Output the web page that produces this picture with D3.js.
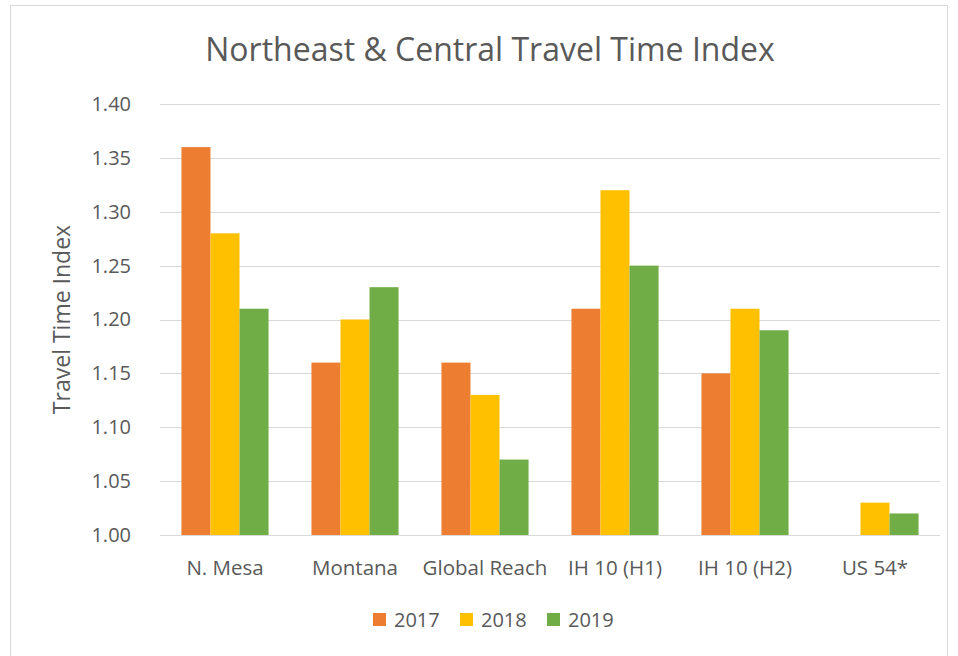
<!DOCTYPE html>
<html>
<head>
<meta charset="utf-8">
<script src="https://cdn.jsdelivr.net/npm/d3@7"></script>
<style>
  body { margin: 0; background: #fff; }
  svg { display: block; font-family: "Open Sans", "Liberation Sans", sans-serif; }
</style>
</head>
<body>
<div id="chart"></div>
<script>
var categories = ["N. Mesa", "Montana", "Global Reach", "IH 10 (H1)", "IH 10 (H2)", "US 54*"];
var years = ["2017", "2018", "2019"];
var values2017 = [1.36, 1.16, 1.16, 1.21, 1.15, null];
var values2018 = [1.28, 1.20, 1.13, 1.32, 1.21, 1.03];
var values2019 = [1.21, 1.23, 1.07, 1.25, 1.19, 1.02];
var yTicks = [1.00, 1.05, 1.10, 1.15, 1.20, 1.25, 1.30, 1.35, 1.40];
var colors = ["#ed7d31", "#ffc000", "#70ad47"];

var W = 958, H = 656;
var margin = {top: 104, right: 18, bottom: 121, left: 160},
    width = W - margin.left - margin.right,
    height = H - margin.top - margin.bottom;

var series = [values2017, values2018, values2019];

var svg = d3.select("#chart").append("svg")
    .attr("width", W)
    .attr("height", H);

// chart frame
svg.append("rect")
    .attr("x", 10.5).attr("y", 5.5)
    .attr("width", 937).attr("height", 670)
    .attr("fill", "none")
    .attr("stroke", "#d9d9d9");

svg.append("text")
    .attr("x", 490)
    .attr("y", 61)
    .attr("text-anchor", "middle")
    .attr("fill", "#595959")
    .style("font-size", "32px")
    .text("Northeast & Central Travel Time Index");

var g = svg.append("g")
    .attr("transform", "translate(" + margin.left + "," + margin.top + ")");

var x = d3.scaleBand().domain(categories).range([0, width]).paddingInner(0.33).paddingOuter(0.165);
var xs = d3.scaleBand().domain(years).range([0, x.bandwidth()]);
var y = d3.scaleLinear().domain([1.0, 1.4]).range([height, 0]);

// gridlines
g.selectAll(".grid")
    .data(yTicks)
    .enter()
    .append("line")
        .attr("x1", 0)
        .attr("x2", width)
        .attr("y1", function(d) { return Math.round(y(d)) + 0.5; })
        .attr("y2", function(d) { return Math.round(y(d)) + 0.5; })
        .attr("stroke", "#d9d9d9")
        .attr("stroke-width", 1);

// y axis labels
var yAxis = g.append("g")
    .call(d3.axisLeft(y).tickValues(yTicks).tickFormat(d3.format(".2f")).tickSize(0).tickPadding(29));
yAxis.select(".domain").remove();
yAxis.selectAll("text")
    .attr("fill", "#595959")
    .style("font-size", "20px")
    .style("font-family", "\"Open Sans\", sans-serif");

// bars
years.forEach(function(yr, k) {
    var data = categories.map(function(c, i) { return {cat: c, v: series[k][i]}; })
        .filter(function(d) { return d.v != null; });
    g.selectAll(".bar" + yr)
        .data(data)
        .enter()
        .append("rect")
            .attr("x", function(d) { return x(d.cat) + xs(yr); })
            .attr("y", function(d) { return y(d.v); })
            .attr("width", xs.bandwidth())
            .attr("height", function(d) { return y(1.0) - y(d.v); })
            .attr("fill", colors[k]);
});

// x axis labels
var xAxis = g.append("g")
    .attr("transform", "translate(0," + height + ")")
    .call(d3.axisBottom(x).tickSize(0).tickPadding(25));
xAxis.select(".domain").remove();
xAxis.selectAll("text")
    .attr("fill", "#595959")
    .style("font-size", "20.5px")
    .style("font-family", "\"Open Sans\", sans-serif");

// y axis title
svg.append("text")
    .attr("transform", "translate(70," + (margin.top + height / 2) + ") rotate(-90)")
    .attr("text-anchor", "middle")
    .attr("fill", "#595959")
    .style("font-size", "23px")
    .text("Travel Time Index");

// legend
var legendX = [373, 460, 547];
var legend = svg.selectAll(".legend")
    .data(years)
    .enter()
    .append("g")
        .attr("transform", function(d, i) { return "translate(" + legendX[i] + ",613)"; });
legend.append("rect")
    .attr("width", 13).attr("height", 13)
    .attr("fill", function(d, i) { return colors[i]; });
legend.append("text")
    .attr("x", 21)
    .attr("y", 14)
    .attr("fill", "#595959")
    .style("font-size", "20px")
    .text(function(d) { return d; });
</script>
</body>
</html>
